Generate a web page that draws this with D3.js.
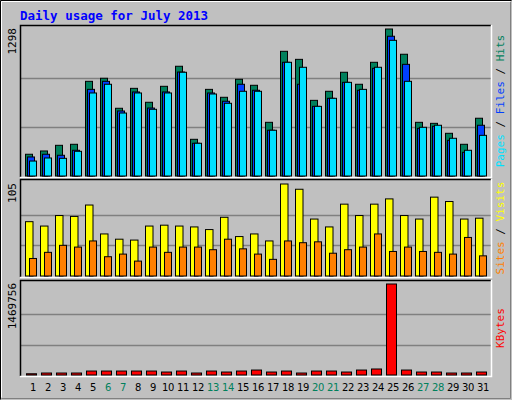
<!DOCTYPE html>
<html><head><meta charset="utf-8">
<script src="https://cdn.jsdelivr.net/npm/d3@7"></script>
<style>body{margin:0;background:#fff}</style>
</head><body><div id="chart"></div>
<script>
var days = d3.range(1,32)
var weekends = [6,7,13,14,20,21,27,28]
var hits  = [192,221,271,280,836,863,598,774,651,792,969,324,765,695,854,801,474,1101,1030,668,748,916,810,1004,1298,1075,474,465,377,280,510]
var files = [168,192,183,227,765,836,574,742,600,742,918,289,733,660,810,757,404,1004,810,615,686,827,757,951,1234,986,421,439,315,209,448]
var pages = [132,159,156,218,733,810,556,733,589,733,916,289,724,642,748,748,404,1004,960,615,686,827,765,960,1198,836,430,448,333,227,359]
var visits = [62,57,69,68,81,48,42,41,57,58,57,56,53,67,45,48,40,105,99,65,56,82,69,82,88,69,65,90,85,65,66]
var sites  = [20,27,35,33,40,22,25,17,33,27,33,33,30,42,31,25,19,40,38,39,26,30,33,48,28,33,28,27,25,44,23]
var kbytes = [20000,32000,32000,32000,64000,64000,64000,64000,64000,48000,64000,32000,64000,48000,64000,80000,48000,64000,32000,64000,64000,48000,80000,97000,1469756,80000,48000,48000,32000,32000,48000]

var svg = d3.select("#chart").append("svg").attr("width",512).attr("height",400)
var mono = "'DejaVu Sans Mono', monospace"

// outer frame
svg.append("rect").attr("width",512).attr("height",400).attr("fill","#c0c0c0")
svg.append("path").attr("d","M0.5,399.5V0.5H511.5").attr("stroke","#000").attr("fill","none")
svg.append("path").attr("d","M1.5,398.5H510.5V1.5").attr("stroke","#808080").attr("fill","none")
svg.append("path").attr("d","M1.5,397.5V1.5H510.5").attr("stroke","#fff").attr("fill","none")

svg.append("text").attr("x",20).attr("y",20).attr("fill","#0000ff").attr("font-family",mono)
  .attr("font-weight","bold").attr("font-size",12.5).text("Daily usage for July 2013")

var x = d3.scaleBand().domain(days).range([20,485])
var left = 20, right = 491

function panel(top, bottom, ymax, y0){
  svg.append("rect").attr("x",left).attr("y",top).attr("width",right-left).attr("height",bottom-top).attr("fill","#c0c0c0")
  var y = d3.scaleLinear().domain([0,ymax]).range([bottom-1, y0])
  ;[1/3,2/3].forEach(function(f){
    svg.append("line").attr("x1",left).attr("x2",right).attr("y1",Math.round(y(ymax*f))+0.5).attr("y2",Math.round(y(ymax*f))+0.5)
      .attr("stroke","#808080").attr("stroke-width",1.5)
  })
  svg.append("path").attr("d","M"+(left+0.5)+","+(bottom)+"V"+(top+0.5)+"H"+right).attr("stroke","#000").attr("stroke-width",1.5).attr("fill","none")
  svg.append("path").attr("d","M"+left+","+(bottom+0.5)+"H"+(right+0.5)+"V"+top).attr("stroke","#fff").attr("stroke-width",1.5).attr("fill","none")
  svg.append("text").attr("transform","translate(16,"+(y0-1)+") rotate(-90)").attr("text-anchor","end")
    .attr("font-family",mono).attr("font-size",11).attr("fill","#000").text(ymax)
  return y
}

function bars(vals, y, off, w, color){
  svg.append("g").selectAll("rect").data(vals).join("rect")
    .attr("x",function(d,i){return x(days[i])+off})
    .attr("y",function(d){return y(d)})
    .attr("width",w)
    .attr("height",function(d){return Math.max(1, y(0)-y(d))})
    .attr("fill",color).attr("stroke","#000").attr("stroke-width",1)
}

function sideLabel(yc, parts){
  var t = svg.append("text").attr("transform","translate(504,"+yc+") rotate(-90)").attr("text-anchor","middle")
    .attr("font-family",mono).attr("font-size",11)
  parts.forEach(function(p){ t.append("tspan").attr("fill",p[1]).text(p[0]) })
}

var y1 = panel(25, 177, 1298, 29)
bars(hits, y1, 5.5, 7, "#00805c")
bars(files, y1, 7.5, 7, "#0040ff")
bars(pages, y1, 9.5, 7, "#00e0ff")
sideLabel(101, [["Pages","#00e0ff"],[" / ","#000"],["Files","#0040ff"],[" / ","#000"],["Hits","#00805c"]])

var y2 = panel(179, 277, 105, 184)
bars(visits, y2, 5.5, 7.5, "#ffff00")
bars(sites, y2, 9.5, 7, "#ff8000")
sideLabel(228, [["Sites","#ff8000"],[" / ","#000"],["Visits","#ffff00"]])

var y3 = panel(280, 376, 1469756, 284)
bars(kbytes, y3, 6.5, 10, "#ff0000")
sideLabel(328, [["KBytes","#ff0000"]])

svg.append("g").selectAll("text").data(days).join("text")
  .attr("x",function(d){return x(d)+13}).attr("y",391).attr("text-anchor","middle")
  .attr("font-family","'DejaVu Sans', sans-serif").attr("font-size",10)
  .attr("letter-spacing",-0.3)
  .attr("fill",function(d){return weekends.includes(d) ? "#00805c" : "#000"})
  .text(function(d){return d})
</script></body></html>
